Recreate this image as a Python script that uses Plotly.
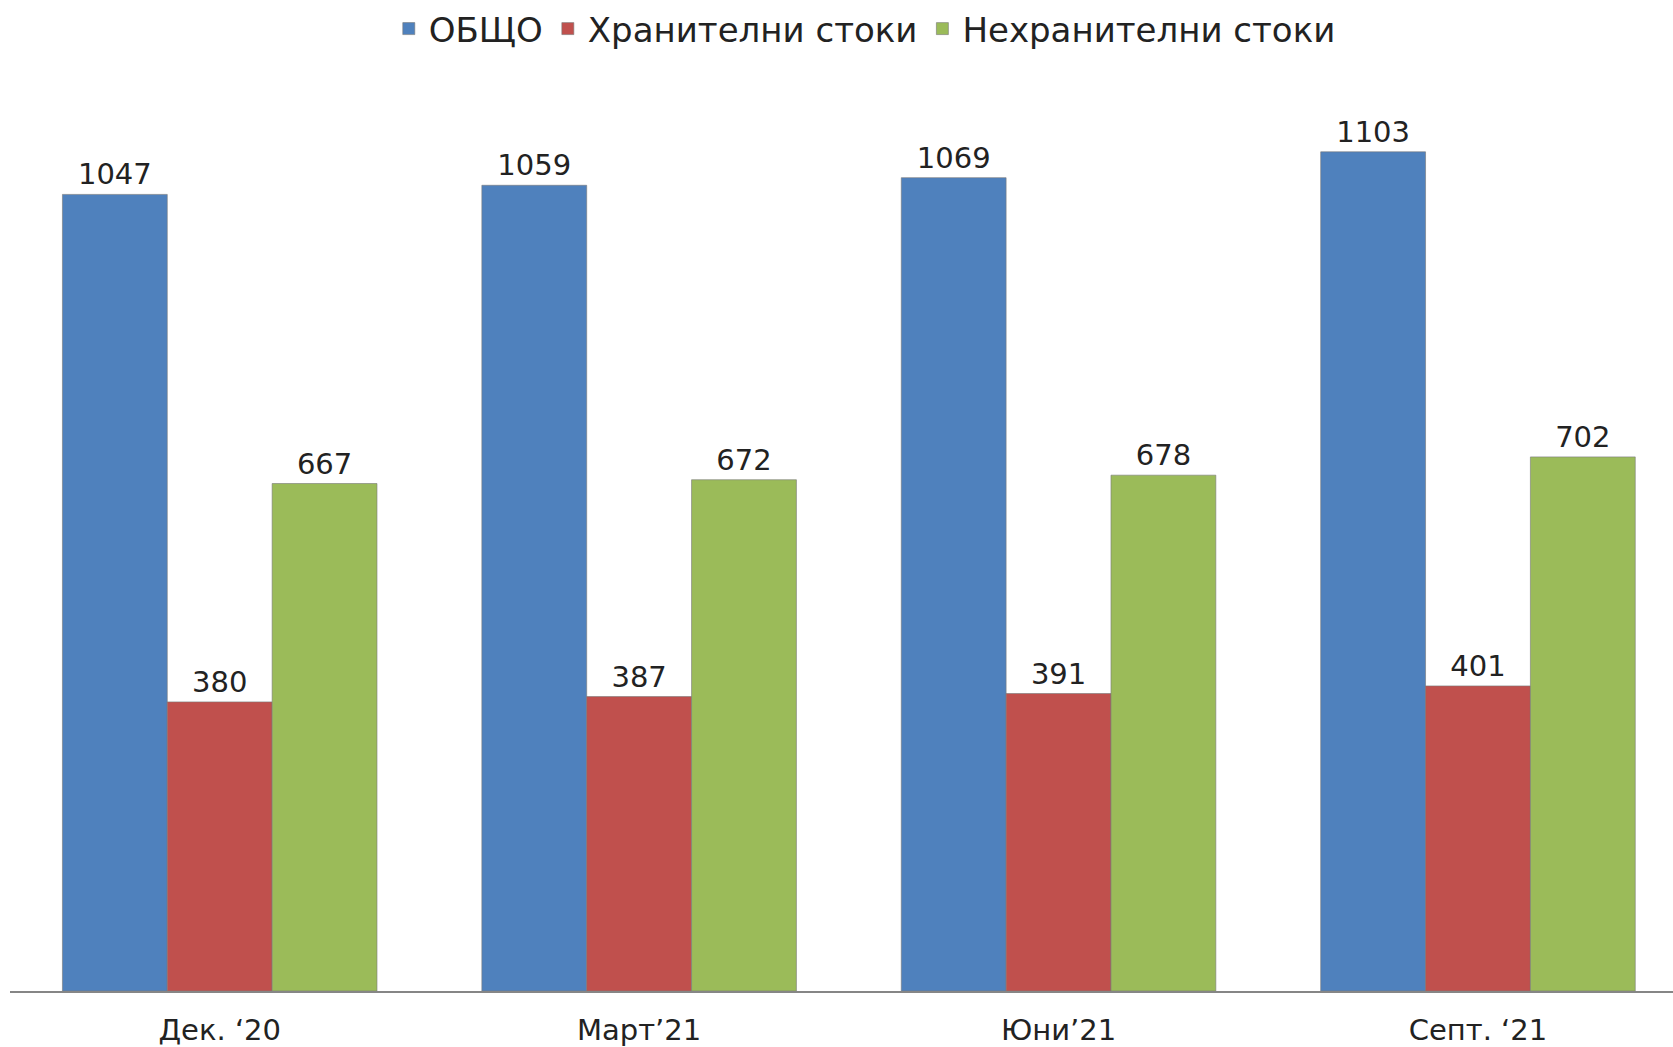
import plotly.graph_objects as go

# Kategorier og serier
periods = ["Дек. ‘20", "Март’21", "Юни’21", "Септ. ‘21"]
total = [1047, 1059, 1069, 1103]
food = [380, 387, 391, 401]
nonfood = [667, 672, 678, 702]

series = [
    ("ОБЩО", total, "#4F81BD"),
    ("Хранителни стоки", food, "#C0504D"),
    ("Нехранителни стоки", nonfood, "#9BBB59"),
]

fig = go.Figure()
for name, vals, color in series:
    fig.add_trace(go.Bar(
        x=periods,
        y=vals,
        name=name,
        marker=dict(color=color, line=dict(color="rgba(120,120,120,0.6)", width=1)),
        text=vals,
        textposition="outside",
        textfont=dict(size=29, color="#222222"),
        cliponaxis=False,
    ))

fig.update_layout(
    width=1673,
    height=1047,
    barmode="group",
    bargap=0.25,
    bargroupgap=0,
    plot_bgcolor="white",
    paper_bgcolor="white",
    font=dict(family="DejaVu Sans", color="#222222"),
    margin=dict(l=10, r=0, t=77, b=56),
    legend=dict(
        orientation="h",
        x=0.514, xanchor="center",
        y=1.0535, yanchor="middle",
        font=dict(size=34),
        itemwidth=30,
        traceorder="normal",
    ),
    xaxis=dict(
        range=[-0.5, 3.465],
        showline=True,
        linecolor="#868686",
        linewidth=2,
        ticks="",
        tickfont=dict(size=29),
        ticklabelstandoff=12,
    ),
    yaxis=dict(
        range=[0, 1200],
        visible=False,
        showgrid=False,
    ),
)

# body-margin væk, så figuren fylder hele vinduet
fig.write_html(
    "out.html",
    config={"displayModeBar": False},
    post_script="document.body.style.margin='0';document.body.style.overflow='hidden';",
)
